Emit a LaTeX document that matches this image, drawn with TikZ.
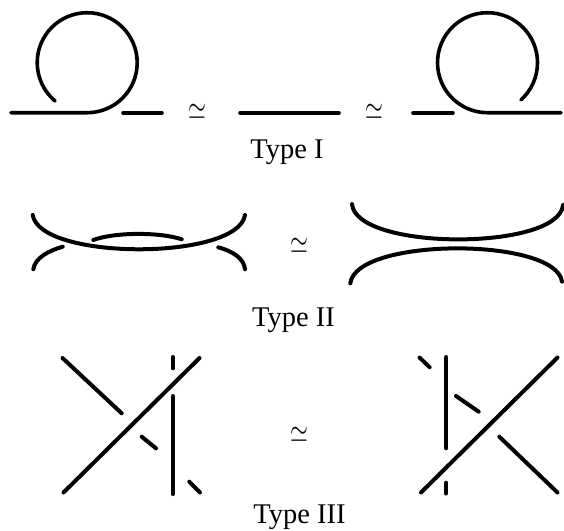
\documentclass[tikz,border=0pt]{standalone}
\usepackage{fontspec}
\setmainfont{Liberation Serif}
\begin{document}
\begin{tikzpicture}[x=1pt,y=-1pt,
  strand/.style={line width=3.6pt, line cap=round},
  thick strand/.style={line width=4pt, line cap=round},
  lbl/.style={anchor=base, inner sep=0pt, font=\fontsize{28.5}{30}\selectfont},
  eqv/.style={inner sep=0pt}]
\newcommand{\myeqv}{\scalebox{2.3}[3.3]{$\simeq$}}
\useasboundingbox (0,0) rectangle (564,530);
% ---------- Type I ----------
\coordinate (l1a) at (11,112.7);
\coordinate (l1b) at (87.2,112.7);
\draw[strand] (l1a) -- (l1b) arc[start angle=90, end angle=-230, radius=50];
\draw[strand] (123,112.7) -- (162,112.7);
\node[eqv] (e1) at (197.5,112) {\myeqv};
\draw[strand] (240,112.7) -- (339,112.7);
\node[eqv] (e2) at (374,112) {\myeqv};
\draw[strand] (413,112.7) -- (453,112.7);
\coordinate (r1a) at (561,112.7);
\coordinate (r1b) at (487.5,112.7);
\draw[strand] (r1a) -- (r1b) arc[start angle=90, end angle=408, radius=50];
\node[lbl] (t1) at (287,158) {Type I};
% ---------- Type II ----------
\draw[thick strand] (33.3,269.3) .. controls (35,258) and (48,251) .. (62.7,246.7);
\draw[thick strand] (93.3,240) .. controls (115,232) and (160,232) .. (181.7,239.3);
\draw[thick strand] (218.3,247.3) .. controls (232,251) and (244,258) .. (245,269.3);
\draw[thick strand] (32.7,215) .. controls (40,260.7) and (238,260.7) .. (245,215);
\node[eqv] (e3) at (299.5,246) {\myeqv};
\draw[thick strand] (352,204) .. controls (356,251) and (559,251) .. (563,205);
\draw[thick strand] (350.3,283.3) .. controls (356,237) and (556,237) .. (562,281.7);
\node[lbl] (t2) at (293.5,326) {Type II};
% ---------- Type III ----------
\draw[thick strand] (63.5,492.5) -- (199.5,358);
\draw[thick strand] (62.5,358) -- (121.7,413.3);
\draw[thick strand] (141.7,436.7) -- (156,448.3);
\draw[thick strand] (189.3,481.7) -- (200,492.5);
\draw[thick strand] (172.7,357) -- (172.7,368.3);
\draw[thick strand] (172.7,396) -- (172.7,494);
\node[eqv] (e4) at (299.5,435) {\myeqv};
\draw[thick strand] (421,492.5) -- (557.5,357.5);
\draw[thick strand] (446.3,357) -- (446.3,448.3);
\draw[thick strand] (446.3,482.7) -- (446.3,493.5);
\draw[thick strand] (419.5,357.5) -- (429.7,367.3);
\draw[thick strand] (456,396) -- (478.7,411.7);
\draw[thick strand] (499.3,436.7) -- (557.5,492.5);
\node[lbl] (t3) at (299.5,523) {Type III};
\end{tikzpicture}
\end{document}
